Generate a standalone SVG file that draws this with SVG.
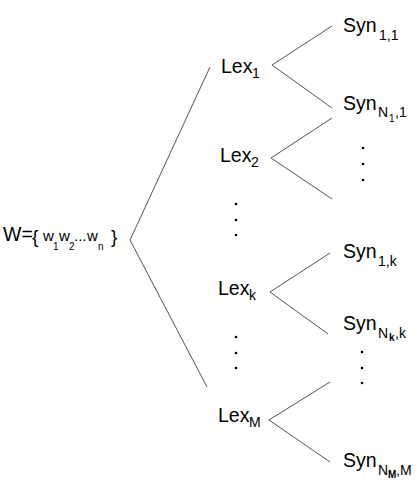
<svg xmlns="http://www.w3.org/2000/svg" width="418" height="482" viewBox="0 0 418 482">
<style>
text{font-family:"Liberation Sans",Arial,Helvetica,sans-serif;fill:#000}
.m{font-size:19.5px}
.s{font-size:14px}
.ss{font-size:10px}
.b{font-weight:bold}
.w{font-size:15px}
.br{font-size:19px}
.ln{fill:none;stroke:#555;stroke-width:1}
.d{fill:#000}
</style>
<rect width="418" height="482" fill="#fff"/>
<g id="connectors">
<polyline class="ln" points="210,67 130,240 207,387"/>
<polyline class="ln" points="332,26 272,65 332,108"/>
<polyline class="ln" points="332,118 271,158 332,199"/>
<polyline class="ln" points="330,253 270,292 328,334"/>
<polyline class="ln" points="330,382 269,420 330,462"/>
</g>
<g id="dots">
<circle class="d" cx="363" cy="148" r="1.3"/><circle class="d" cx="363" cy="164" r="1.3"/><circle class="d" cx="363" cy="180" r="1.3"/>
<circle class="d" cx="236" cy="204" r="1.3"/><circle class="d" cx="236" cy="220" r="1.3"/><circle class="d" cx="236" cy="235" r="1.3"/>
<circle class="d" cx="236" cy="337" r="1.3"/><circle class="d" cx="236" cy="353" r="1.3"/><circle class="d" cx="236" cy="368" r="1.3"/>
<circle class="d" cx="362" cy="352" r="1.3"/><circle class="d" cx="362" cy="368" r="1.3"/><circle class="d" cx="362" cy="383" r="1.3"/>
</g>
<g id="W">
<text class="m" x="3" y="241">W=</text>
<text class="br" x="32" y="243">{</text>
<text class="w" x="43" y="241">w</text><text class="ss" x="53" y="250">1</text>
<text class="w" x="59" y="241">w</text><text class="ss" x="69" y="250">2</text>
<text class="w" x="74" y="241">...</text>
<text class="w" x="87" y="241">w</text><text class="ss" x="98" y="250">n</text>
<text class="br" x="111" y="243">}</text>
</g>
<g id="lex1"><text class="m" x="221" y="73">Lex</text><text class="s" x="252" y="78">1</text></g>
<g id="lex2"><text class="m" x="220" y="162">Lex</text><text class="s" x="251" y="167">2</text></g>
<g id="lexk"><text class="m" x="218" y="295">Lex</text><text class="s" x="249" y="300">k</text></g>
<g id="lexM"><text class="m" x="218" y="422">Lex</text><text class="s" x="249" y="427">M</text></g>
<g id="syn11"><text class="m" x="343" y="32">Syn</text><text class="s" x="379" y="40">1,1</text></g>
<g id="synN11"><text class="m" x="343" y="110">Syn</text><text class="s" x="378" y="117">N</text><text class="ss" x="389" y="122">1</text><text class="s" x="395" y="117">,1</text></g>
<g id="syn1k"><text class="m" x="343" y="258">Syn</text><text class="s" x="378" y="266">1,k</text></g>
<g id="synNkk"><text class="m" x="343" y="330">Syn</text><text class="s" x="378" y="338">N</text><text class="ss b" x="389" y="341">k</text><text class="s" x="395" y="338">,k</text></g>
<g id="synNMM"><text class="m" x="343" y="467">Syn</text><text class="s" x="378" y="475">N</text><text class="ss b" x="388" y="478">M</text><text class="s" x="396" y="475">,M</text></g>
</svg>
